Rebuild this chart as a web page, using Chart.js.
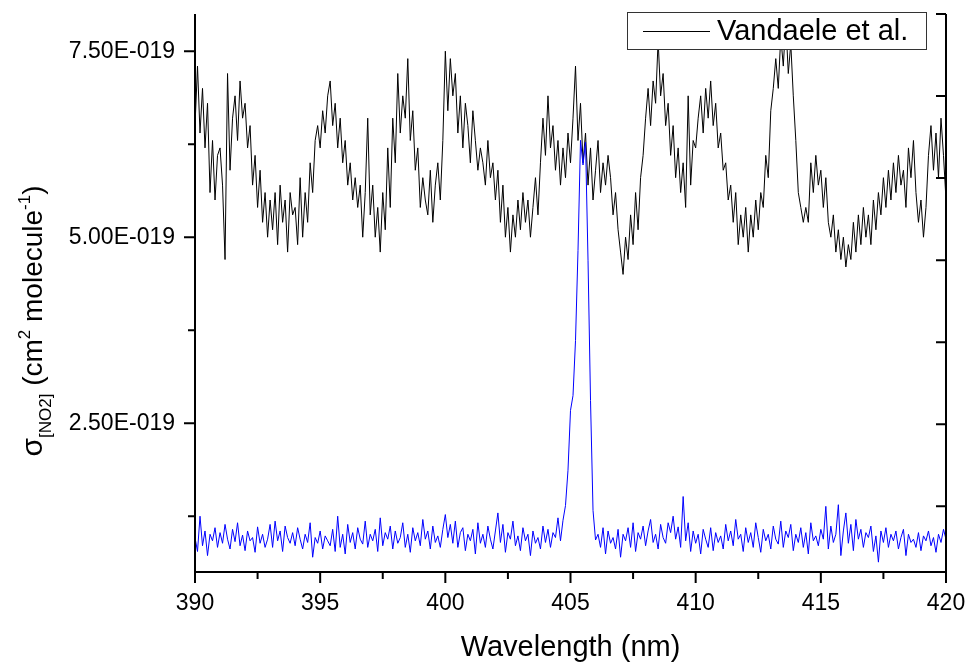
<!DOCTYPE html>
<html>
<head>
<meta charset="utf-8">
<script src="https://cdn.jsdelivr.net/npm/chart.js@4.4.0/dist/chart.umd.min.js"></script>
<style>
    html, body { margin: 0; padding: 0; background: #fff; }
    #wrap { width: 969px; height: 663px; }
</style>
</head>
<body>
<div id="wrap"><canvas id="myChart" width="969" height="663"></canvas></div>
<script>
// sampling grid of both spectra (nm)
const lambdaStart = 390;
const lambdaStep = 0.1;

// Vandaele et al. cross section, units of 1e-19 cm^2 molecule^-1 (390.0 ... 420.0)
const vandaele = [
    6.5, 7.3, 6.4, 7.0, 6.2, 6.8, 5.6, 6.3, 5.5, 6.1,
    6.2, 5.7, 4.7, 7.2, 5.9, 6.6, 6.9, 6.3, 7.1, 6.6,
    6.8, 6.2, 6.5, 5.7, 6.1, 5.4, 5.9, 5.2, 5.6, 5.0,
    5.5, 5.1, 5.6, 4.9, 5.7, 5.2, 5.5, 4.8, 5.6, 5.3,
    5.4, 4.9, 5.8, 5.0, 5.6, 5.2, 6.0, 5.6, 6.3, 6.5,
    6.2, 6.7, 6.4, 6.9, 7.1, 6.5, 6.8, 6.2, 6.6, 6.0,
    6.3, 5.7, 6.0, 5.5, 5.8, 5.4, 5.7, 5.0, 5.6, 6.6,
    5.3, 5.7, 5.0, 5.4, 4.8, 5.6, 5.1, 6.2, 5.4, 6.6,
    6.0, 7.2, 6.4, 6.9, 6.6, 7.4, 6.3, 6.7, 5.9, 6.2,
    5.4, 5.8, 5.5, 5.3, 5.9, 5.2, 5.7, 6.0, 5.5, 6.3,
    7.5, 6.7, 7.4, 6.9, 7.2, 6.4, 6.9, 6.2, 6.8, 6.5,
    6.0, 6.7, 6.3, 5.9, 6.2, 6.0, 5.7, 6.3, 5.8, 6.0,
    5.5, 5.9, 5.2, 5.7, 5.0, 5.4, 4.8, 5.3, 5.0, 5.5,
    5.1, 5.6, 5.2, 5.5, 5.0, 5.4, 5.8, 5.3, 6.0, 6.6,
    6.1, 6.9, 6.2, 6.5, 5.9, 6.3, 5.7, 6.2, 5.8, 6.4,
    6.0, 6.6, 7.3, 6.3, 6.8, 6.0, 6.4, 5.7, 6.2, 5.5,
    5.9, 6.3, 5.6, 6.0, 5.7, 6.1, 5.8, 5.3, 5.6, 5.1,
    4.8, 4.5, 5.0, 4.7, 5.3, 4.9, 5.6, 5.1, 5.8, 6.1,
    6.6, 7.0, 6.5, 7.1, 6.8, 7.65, 6.9, 7.2, 6.5, 6.8,
    6.1, 6.5, 5.8, 6.2, 5.6, 6.0, 5.4, 6.9, 5.7, 6.3,
    6.2, 6.6, 6.9, 6.4, 7.0, 6.6, 7.1, 6.5, 6.8, 6.2,
    6.4, 5.9, 6.0, 5.5, 5.7, 5.2, 5.6, 4.9, 5.3, 5.0,
    5.4, 4.8, 5.3, 5.0, 5.5, 5.1, 5.6, 5.4, 6.1, 5.8,
    6.7, 7.0, 7.4, 7.0, 7.7, 7.3, 7.9, 7.2, 7.6, 6.9,
    6.3, 5.6, 5.4, 5.2, 5.4, 5.2, 6.0, 5.6, 6.1, 5.7,
    5.9, 5.4, 5.8, 5.2, 5.0, 5.3, 4.8, 5.1, 4.7, 5.0,
    4.6, 4.9, 4.7, 5.2, 4.8, 5.3, 4.9, 5.4, 5.0, 5.3,
    4.9, 5.5, 5.1, 5.6, 5.3, 5.8, 5.4, 5.9, 5.5, 6.0,
    5.6, 6.1, 5.7, 5.9, 5.4, 6.2, 5.8, 6.3, 5.6, 5.2,
    5.5, 5.0, 5.4, 6.1, 6.5, 5.9, 6.4, 5.8, 6.6, 6.1,
    5.5
];

// measured spectrum (blue), plotted against the unlabelled right axis
const measured = [
    0.62, 0.45, 0.88, 0.52, 0.70, 0.40, 0.66, 0.58, 0.74, 0.50,
    0.68, 0.55, 0.78, 0.60, 0.48, 0.72, 0.57, 0.80, 0.52, 0.65,
    0.46, 0.70, 0.58, 0.62, 0.44, 0.75, 0.55, 0.66, 0.50, 0.60,
    0.78, 0.50, 0.82, 0.58, 0.70, 0.45, 0.76, 0.62, 0.55, 0.68,
    0.52, 0.74, 0.60, 0.48, 0.66, 0.56, 0.80, 0.38, 0.62, 0.55,
    0.70, 0.48, 0.64, 0.58, 0.52, 0.72, 0.45, 0.88, 0.50, 0.66,
    0.42, 0.78, 0.56, 0.68, 0.48, 0.74, 0.60, 0.54, 0.82, 0.50,
    0.66, 0.58, 0.72, 0.45, 0.86, 0.52, 0.68, 0.60, 0.76, 0.48,
    0.70, 0.55, 0.62, 0.80, 0.50, 0.66, 0.44, 0.74, 0.58, 0.68,
    0.52, 0.84, 0.60, 0.70, 0.48, 0.76, 0.56, 0.64, 0.50, 0.72,
    0.90, 0.62, 0.78, 0.55, 0.82, 0.50, 0.68, 0.74, 0.46, 0.66,
    0.58, 0.72, 0.42, 0.80, 0.55, 0.66, 0.50, 0.76, 0.60, 0.48,
    0.70, 0.92, 0.56, 0.78, 0.44, 0.68, 0.60, 0.82, 0.52, 0.64,
    0.46, 0.74, 0.58, 0.66, 0.40, 0.70, 0.55, 0.62, 0.48, 0.76,
    0.56, 0.72, 0.50, 0.68, 0.62, 0.86, 0.58, 0.83, 1.01, 1.44,
    2.17, 2.35, 3.02, 4.12, 5.46, 5.16, 5.44, 4.00, 2.29, 0.95,
    0.59, 0.66, 0.50, 0.74, 0.42, 0.70, 0.55, 0.62, 0.48, 0.72,
    0.38, 0.66, 0.58, 0.74, 0.50, 0.80, 0.45, 0.68, 0.60, 0.76,
    0.52, 0.70, 0.84, 0.56, 0.66, 0.48, 0.78, 0.62, 0.55, 0.80,
    0.68, 0.88, 0.60, 0.75, 0.50, 1.12, 0.58, 0.80, 0.45, 0.70,
    0.55, 0.66, 0.42, 0.72, 0.60, 0.50, 0.74, 0.46, 0.68, 0.56,
    0.64, 0.48, 0.78, 0.58, 0.70, 0.52, 0.84, 0.60, 0.66, 0.45,
    0.74, 0.56, 0.68, 0.50, 0.80, 0.62, 0.44, 0.72, 0.58, 0.66,
    0.48, 0.76, 0.60, 0.54, 0.82, 0.50, 0.70, 0.62, 0.78, 0.46,
    0.66, 0.56, 0.74, 0.50, 0.68, 0.42, 0.80, 0.58, 0.64, 0.52,
    0.72, 0.60, 1.00, 0.48, 0.76, 0.56, 0.66, 1.02, 0.40, 0.70,
    0.92, 0.55, 0.78, 0.46, 0.84, 0.60, 0.72, 0.50, 0.68, 0.62,
    0.76, 0.45, 0.64, 0.32, 0.70, 0.56, 0.74, 0.50, 0.66, 0.58,
    0.70, 0.48, 0.62, 0.72, 0.40, 0.66, 0.56, 0.60, 0.50, 0.68,
    0.46, 0.64, 0.58, 0.70, 0.52, 0.62, 0.44, 0.66, 0.56, 0.72,
    0.60
];

// axes
const xTickValues = [390, 395, 400, 405, 410, 415, 420];
const xTickLabels = ['390', '395', '400', '405', '410', '415', '420'];
const xMinorTicks = [392.5, 397.5, 402.5, 407.5, 412.5, 417.5];
const yTickValues = [2.5e-19, 5.0e-19, 7.5e-19];
const yTickLabels = ['2.50E-019', '5.00E-019', '7.50E-019'];
const yMinorTicks = [1.25e-19, 3.75e-19, 6.25e-19];
const rightTicks = [1, 2, 3, 4, 5, 6, 7];

const FONT = '"Liberation Sans", Arial, sans-serif';

function toPoints(values, scale) {
    return values.map((v, i) => ({ x: lambdaStart + i * lambdaStep, y: v * scale }));
}

// fixed axis boxes, no extra label padding around the plot
function fixBox(size, key) {
    return s => {
        s[key] = size;
        s.paddingTop = 0;
        s.paddingBottom = 0;
        s.paddingLeft = 0;
        s.paddingRight = 0;
    };
}

function drawYTitle(ctx) {
    const parts = [
        { t: 'σ', size: 30, shift: 0 },
        { t: '[NO2]', size: 17, shift: 9 },
        { t: ' (cm', size: 28, shift: 0 },
        { t: '2', size: 17, shift: -12 },
        { t: ' molecule', size: 28, shift: 0 },
        { t: '-1', size: 17, shift: -12 },
        { t: ')', size: 28, shift: 0 }
    ];
    let total = 0;
    parts.forEach(p => {
        ctx.font = `${p.size}px ${FONT}`;
        total += ctx.measureText(p.t).width;
    });
    ctx.save();
    ctx.translate(42, 321 + total / 2);
    ctx.rotate(-Math.PI / 2);
    ctx.fillStyle = '#000';
    ctx.textBaseline = 'alphabetic';
    let pos = 0;
    parts.forEach(p => {
        ctx.font = `${p.size}px ${FONT}`;
        ctx.fillText(p.t, pos, p.shift);
        pos += ctx.measureText(p.t).width;
    });
    ctx.restore();
}

const framePlugin = {
    id: 'frame',
    afterDatasetsDraw(chart) {
        const { ctx, chartArea: a } = chart;
        const x = chart.scales.x, y = chart.scales.y, y2 = chart.scales.y2;
        ctx.save();
        ctx.strokeStyle = '#000';
        ctx.lineWidth = 2;
        ctx.beginPath();
        ctx.moveTo(a.left, a.top);
        ctx.lineTo(a.left, a.bottom);
        ctx.lineTo(a.right, a.bottom);
        ctx.lineTo(a.right, a.top);
        // bottom ticks, outward
        xTickValues.forEach(v => { const px = x.getPixelForValue(v); ctx.moveTo(px, a.bottom); ctx.lineTo(px, a.bottom + 11); });
        xMinorTicks.forEach(v => { const px = x.getPixelForValue(v); ctx.moveTo(px, a.bottom); ctx.lineTo(px, a.bottom + 7); });
        // left ticks, outward
        yTickValues.forEach(v => { const py = y.getPixelForValue(v); ctx.moveTo(a.left, py); ctx.lineTo(a.left - 11, py); });
        yMinorTicks.forEach(v => { const py = y.getPixelForValue(v); ctx.moveTo(a.left, py); ctx.lineTo(a.left - 7, py); });
        // right ticks, inward
        rightTicks.forEach(v => { const py = y2.getPixelForValue(v); ctx.moveTo(a.right, py); ctx.lineTo(a.right - 10, py); });
        ctx.stroke();

        // legend box over the data
        const lx = 627, ly = 12, lw = 299, lh = 37;
        ctx.fillStyle = '#fff';
        ctx.fillRect(lx, ly, lw, lh);
        ctx.lineWidth = 1;
        ctx.strokeStyle = '#333';
        ctx.strokeRect(lx + 0.5, ly + 0.5, lw, lh);
        ctx.strokeStyle = '#000';
        ctx.beginPath();
        ctx.moveTo(643, ly + 19.5);
        ctx.lineTo(710, ly + 19.5);
        ctx.stroke();
        ctx.fillStyle = '#000';
        ctx.font = `29px ${FONT}`;
        ctx.textBaseline = 'middle';
        ctx.textAlign = 'left';
        ctx.fillText(chart.data.datasets[1].label, 717, ly + 20);

        // x title
        ctx.textAlign = 'center';
        ctx.textBaseline = 'alphabetic';
        ctx.font = `29px ${FONT}`;
        ctx.fillText('Wavelength (nm)', (a.left + a.right) / 2, 656);
        ctx.restore();

        drawYTitle(ctx);
    }
};

const chart = new Chart(document.getElementById('myChart'), {
    type: 'line',
    data: {
        datasets: [
            {
                label: 'measured',
                data: toPoints(measured, 1),
                yAxisID: 'y2',
                borderColor: '#0000ff',
                borderWidth: 1,
                pointRadius: 0,
                tension: 0,
                order: 0
            },
            {
                label: 'Vandaele et al.',
                data: toPoints(vandaele, 1e-19),
                yAxisID: 'y',
                borderColor: '#000000',
                borderWidth: 1,
                pointRadius: 0,
                tension: 0,
                order: 1
            }
        ]
    },
    options: {
        responsive: false,
        animation: false,
        events: [],
        layout: { padding: { top: 14, right: 23, left: 0, bottom: 0 } },
        plugins: {
            legend: { display: false },
            tooltip: { enabled: false },
            title: { display: false }
        },
        scales: {
            x: {
                type: 'linear',
                position: 'bottom',
                min: 390,
                max: 420,
                grid: { display: false, drawTicks: false },
                border: { display: false },
                afterBuildTicks: s => { s.ticks = xTickValues.map(v => ({ value: v })); },
                afterFit: fixBox(91, 'height'),
                ticks: {
                    autoSkip: false,
                    maxRotation: 0,
                    padding: 18,
                    color: '#000',
                    font: { family: FONT, size: 23 },
                    callback: v => xTickLabels[xTickValues.indexOf(v)]
                }
            },
            y: {
                type: 'linear',
                position: 'left',
                min: 0.5e-19,
                max: 8.0e-19,
                grid: { display: false, drawTicks: false },
                border: { display: false },
                afterBuildTicks: s => { s.ticks = yTickValues.map(v => ({ value: v })); },
                afterFit: fixBox(195, 'width'),
                ticks: {
                    padding: 20,
                    color: '#000',
                    font: { family: FONT, size: 23 },
                    callback: v => yTickLabels[yTickValues.indexOf(v)]
                }
            },
            y2: {
                type: 'linear',
                position: 'right',
                min: 0.2,
                max: 7,
                grid: { display: false, drawTicks: false },
                border: { display: false },
                ticks: { display: false },
                afterFit: fixBox(0, 'width')
            }
        }
    },
    plugins: [framePlugin]
});
</script>
</body>
</html>
